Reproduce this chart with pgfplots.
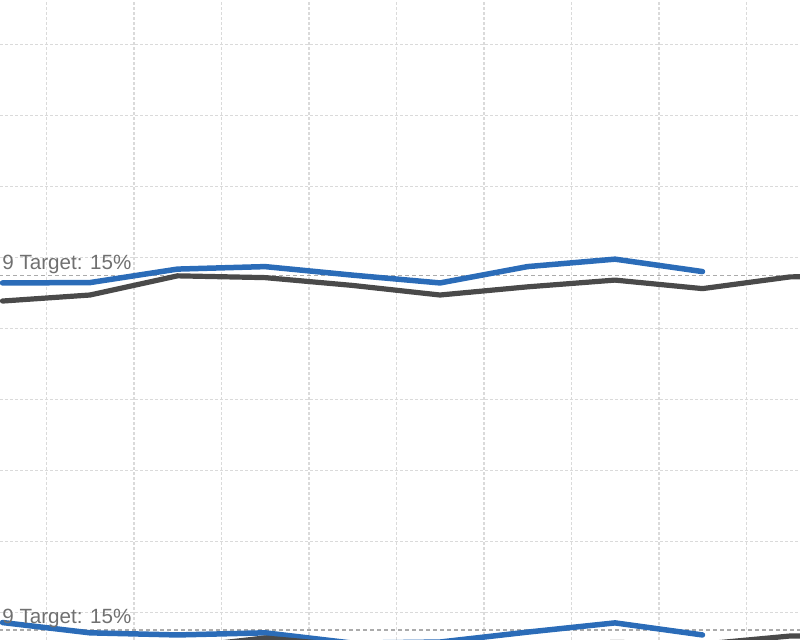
\documentclass[border=0pt]{standalone}
\usepackage{pgfplots}
\pgfplotsset{compat=1.18}
\usepackage{fontspec}
\setmainfont{Liberation Sans}
\definecolor{lineblue}{HTML}{2B6CB8}
\definecolor{linegray}{HTML}{4A4A4A}
\definecolor{gridgray}{HTML}{DADADA}
\definecolor{targetgray}{HTML}{ABABAB}
\definecolor{labelgray}{HTML}{707070}

\tikzset{
  blueline/.style={lineblue, line width=2.75pt, line cap=round, line join=round},
  grayline/.style={linegray, line width=2.6pt, line cap=round, line join=round},
  targetline/.style={targetgray, line width=0.75pt, dash pattern=on 2pt off 1.5pt},
  targetlabel/.style={anchor=base west, inner sep=0pt, text=labelgray, font=\fontsize{10.3pt}{12pt}\selectfont, yshift=2.75pt},
}
\pgfplotsset{
  panel/.style={
    x=43.75pt, y=17.75pt,
    xmin=-0.02857, xmax=9.1143,
    axis line style={draw=none},
    major tick length=0pt,
    xticklabels={}, yticklabels={},
    anchor=south west, at={(0pt,0pt)},
  },
}

\begin{document}
\begin{tikzpicture}
\useasboundingbox (0pt,0pt) rectangle (400pt,320pt);
\clip (0pt,0pt) rectangle (400pt,320pt);

% top panel
\begin{axis}[panel, ymin=4.7324, ymax=22.7606,
  xtick={0.5,1.5,2.5,3.5,4.5,5.5,6.5,7.5,8.5},
  ytick={5.5,7.5,9.5,11.5,13.5,15.5,17.5,19.5,21.5},
  grid=major,
  major grid style={gridgray, line width=0.75pt, dash pattern=on 1.5pt off 1pt}]
\addplot[targetline] coordinates {(-1,15) (11,15)};
\addplot[blueline] coordinates {
(0,14.79) (1,14.80) (2,15.18) (3,15.25) (4,15.01) (5,14.79) (6,15.25) (7,15.46) (8,15.11)};
\addplot[grayline] coordinates {
(0,14.28) (1,14.45) (2,14.99) (3,14.94) (4,14.72) (5,14.45) (6,14.68) (7,14.87) (8,14.63) (9,14.96) (10,15.00)};
\node[targetlabel] at (axis cs:-0.006,15) {9 Target: 15\%};
\end{axis}

% bottom panel
\begin{axis}[panel, ymin=14.7183, ymax=32.7465, xtick=\empty, ytick=\empty]
\addplot[targetline] coordinates {(-1,15) (11,15)};
\addplot[blueline] coordinates {
(0,15.21) (1,14.92) (2,14.86) (3,14.92) (4,14.63) (5,14.66) (6,14.94) (7,15.20) (8,14.86)};
\addplot[grayline] coordinates {
(0,14.40) (1,14.50) (2,14.50) (3,14.775) (4,14.55) (5,14.40) (6,14.55) (7,14.65) (8,14.60) (9,14.83) (10,14.85)};
\node[targetlabel, yshift=0.5pt] at (axis cs:-0.006,15) {9 Target: 15\%};
\end{axis}
\end{tikzpicture}
\end{document}
